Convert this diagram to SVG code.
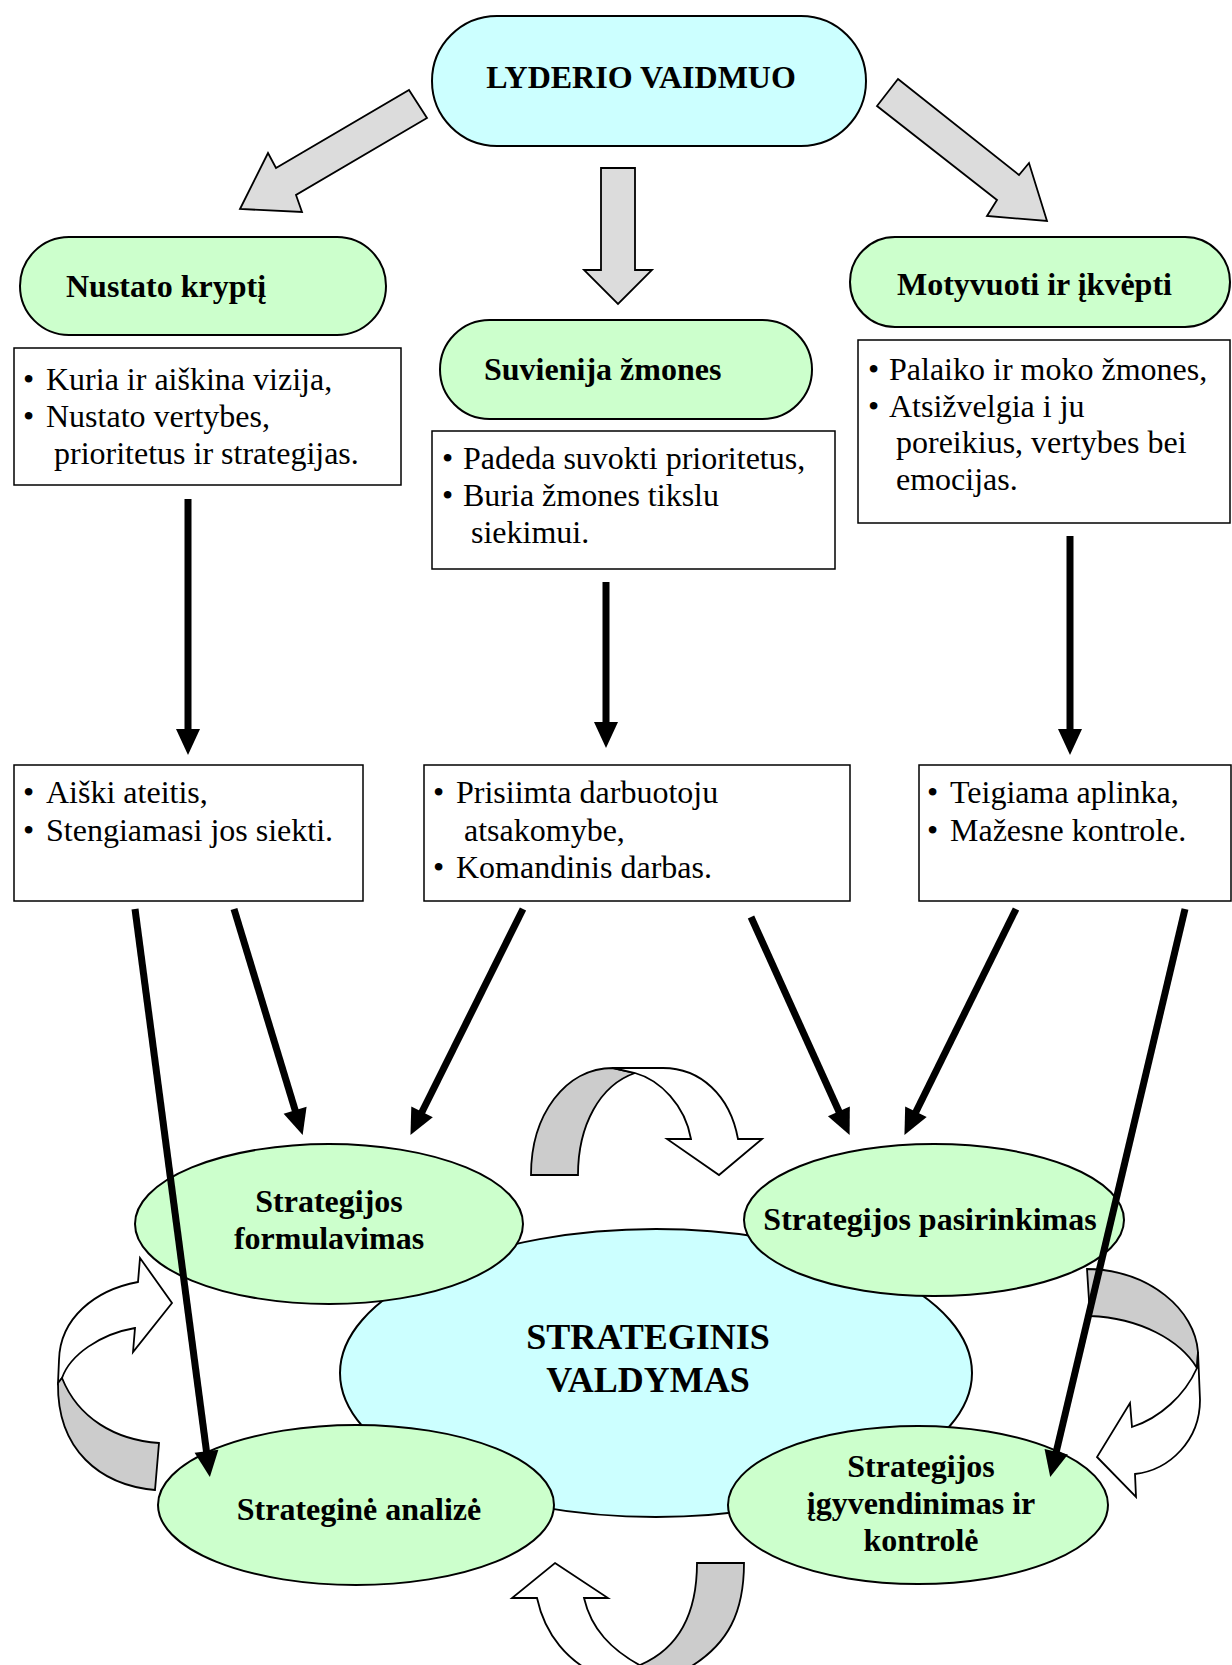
<svg xmlns="http://www.w3.org/2000/svg" width="1232" height="1665" viewBox="0 0 1232 1665">
  <defs>
    <style>
      text { font-family: "Liberation Serif", "Times New Roman", serif; font-size: 32px; fill: #000; }
      .b { font-weight: bold; }
      .mid { text-anchor: middle; }
      .big { font-size: 36px; }
      .pill-blue { fill: #ccffff; stroke: #000; stroke-width: 2; }
      .pill-green { fill: #ccffcc; stroke: #000; stroke-width: 2; }
      .box { fill: #fff; stroke: #000; stroke-width: 1.5; }
      .block { fill: #dcdcdc; stroke: #000; stroke-width: 1.8; stroke-linejoin: miter; }
      .ribbon-front { fill: #fff; stroke: #000; stroke-width: 1.8; }
      .ribbon-back { fill: #cccccc; stroke: #000; stroke-width: 1.8; }
      .link { stroke: #000; stroke-width: 7; fill: none; marker-end: url(#head); }
    </style>
    <marker id="head" markerUnits="userSpaceOnUse" markerWidth="30" markerHeight="28" viewBox="0 -14 30 28" refX="1" refY="0" orient="auto" overflow="visible">
      <path d="M0,-12 L26,0 L0,12 Z" fill="#000"/>
    </marker>
  </defs>

  <rect width="1232" height="1665" fill="#fff"/>

  <!-- top node -->
  <g id="lyderio-vaidmuo">
    <rect class="pill-blue" x="432" y="16" width="434" height="130" rx="65" ry="65"/>
    <text class="b mid" x="641" y="88">LYDERIO VAIDMUO</text>
  </g>

  <!-- three roles -->
  <g id="nustato-krypti">
    <rect class="pill-green" x="20" y="237" width="366" height="98" rx="49" ry="49"/>
    <text class="b" x="66" y="297">Nustato kryptį</text>
  </g>
  <g id="suvienija-zmones">
    <rect class="pill-green" x="440" y="320" width="372" height="99" rx="49.5" ry="49.5"/>
    <text class="b" x="484" y="380">Suvienija žmones</text>
  </g>
  <g id="motyvuoti">
    <rect class="pill-green" x="850" y="237" width="380" height="90" rx="45" ry="45"/>
    <text class="b" x="897" y="295">Motyvuoti ir įkvėpti</text>
  </g>

  <!-- role descriptions -->
  <g id="box-kryptis">
    <rect class="box" x="14" y="348" width="387" height="137"/>
    <text y="390"><tspan x="23">•</tspan><tspan x="46">Kuria ir aiškina vizija,</tspan></text>
    <text y="427"><tspan x="23">•</tspan><tspan x="46">Nustato vertybes,</tspan></text>
    <text x="54" y="464">prioritetus ir strategijas.</text>
  </g>
  <g id="box-zmones">
    <rect class="box" x="432" y="431" width="403" height="138"/>
    <text y="469"><tspan x="442">•</tspan><tspan x="463">Padeda suvokti prioritetus,</tspan></text>
    <text y="506"><tspan x="442">•</tspan><tspan x="463">Buria žmones tikslu</tspan></text>
    <text x="471" y="543">siekimui.</text>
  </g>
  <g id="box-motyvai">
    <rect class="box" x="858" y="340" width="372" height="183"/>
    <text y="380"><tspan x="868">•</tspan><tspan x="889">Palaiko ir moko žmones,</tspan></text>
    <text y="417"><tspan x="868">•</tspan><tspan x="889">Atsižvelgia i ju</tspan></text>
    <text x="896" y="453">poreikius, vertybes bei</text>
    <text x="896" y="490">emocijas.</text>
  </g>

  <!-- outcomes -->
  <g id="box-ateitis">
    <rect class="box" x="14" y="765" width="349" height="136"/>
    <text y="803"><tspan x="23">•</tspan><tspan x="46">Aiški ateitis,</tspan></text>
    <text y="841"><tspan x="23">•</tspan><tspan x="46">Stengiamasi jos siekti.</tspan></text>
  </g>
  <g id="box-atsakomybe">
    <rect class="box" x="424" y="765" width="426" height="136"/>
    <text y="803"><tspan x="433">•</tspan><tspan x="456">Prisiimta darbuotoju</tspan></text>
    <text x="464" y="841">atsakomybe,</text>
    <text y="878"><tspan x="433">•</tspan><tspan x="456">Komandinis darbas.</tspan></text>
  </g>
  <g id="box-aplinka">
    <rect class="box" x="919" y="765" width="312" height="136"/>
    <text y="803"><tspan x="927">•</tspan><tspan x="950">Teigiama aplinka,</tspan></text>
    <text y="841"><tspan x="927">•</tspan><tspan x="950">Mažesne kontrole.</tspan></text>
  </g>

  <!-- block arrows, vertical links and cycle arrows (behind the ellipses) -->
  <g id="connectors-back">
    <polygon class="block" points="409,90 427,118 296,195 302,212 240,209 268,153 276,168"/>
    <polygon class="block" points="601,168 635,168 635,270 652,270 618,304 584,270 601,270"/>
    <polygon class="block" points="898,79 1019,175 1029,163 1047,221 987,216 997,200 877,106"/>

    <line class="link" x1="188" y1="499" x2="188" y2="730"/>
    <line class="link" x1="606" y1="582" x2="606" y2="723"/>
    <line class="link" x1="1070" y1="536" x2="1070" y2="730"/>

    <!-- cycle: top -->
    <path class="ribbon-back" d="M531,1175 C531,1115 565,1068 613,1068 L635,1073 C600,1085 578,1125 578,1175 Z"/>
    <path class="ribbon-front" d="M613,1068 L663,1068 C700,1068 730,1095 738,1139 L762,1139 L719,1175 L667,1139 L691,1139 C685,1105 660,1080 635,1073 Z"/>
    <!-- cycle: right -->
    <path class="ribbon-back" d="M1087,1269 C1150,1270 1195,1310 1198,1352 L1197,1368 C1180,1340 1140,1318 1090,1316 Z"/>
    <path class="ribbon-front" d="M1198,1352 L1200,1400 C1200,1440 1170,1470 1135,1474 L1136,1497 L1097,1457 L1130,1403 L1132,1427 C1160,1418 1185,1395 1197,1368 Z"/>
    <!-- cycle: bottom -->
    <path class="ribbon-front" d="M555,1563 L608,1598 L584,1598 C591,1628 610,1650 645,1668 L645,1680 L600,1680 L600,1676 C568,1662 545,1635 537,1598 L512,1598 Z"/>
    <path class="ribbon-back" d="M697,1563 L744,1563 C744,1610 730,1645 685,1670 L640,1680 L640,1665 C680,1648 697,1612 697,1563 Z"/>
    <!-- cycle: left -->
    <path class="ribbon-front" d="M140,1258 L172,1303 L133,1352 L135,1328 C100,1334 70,1355 62,1378 L58,1383 L59,1360 C60,1318 95,1290 138,1282 Z"/>
    <path class="ribbon-back" d="M58,1383 C57,1450 100,1485 155,1490 L159,1443 C115,1440 78,1418 62,1378 Z"/>
  </g>

  <!-- strategic management cycle -->
  <g id="strateginis-valdymas">
    <ellipse class="pill-blue" cx="656" cy="1373" rx="316" ry="144"/>
    <text class="b mid big" x="648" y="1349">STRATEGINIS</text>
    <text class="b mid big" x="648" y="1392">VALDYMAS</text>
  </g>
  <g id="strategijos-formulavimas">
    <ellipse class="pill-green" cx="329" cy="1224" rx="194" ry="80"/>
    <text class="b mid" x="329" y="1212">Strategijos</text>
    <text class="b mid" x="329" y="1249">formulavimas</text>
  </g>
  <g id="strategijos-pasirinkimas">
    <ellipse class="pill-green" cx="934" cy="1220" rx="190" ry="76"/>
    <text class="b mid" x="930" y="1230">Strategijos pasirinkimas</text>
  </g>
  <g id="strategine-analize">
    <ellipse class="pill-green" cx="356" cy="1505" rx="198" ry="80"/>
    <text class="b mid" x="359" y="1520">Strateginė analizė</text>
  </g>
  <g id="strategijos-igyvendinimas">
    <ellipse class="pill-green" cx="918" cy="1505" rx="190" ry="79"/>
    <text class="b mid" x="921" y="1477">Strategijos</text>
    <text class="b mid" x="921" y="1514">įgyvendinimas ir</text>
    <text class="b mid" x="921" y="1551">kontrolė</text>
  </g>

  <!-- links from outcomes into the cycle -->
  <g id="connectors">
    <line class="link" x1="135" y1="909" x2="206.6" y2="1452.2"/>
    <line class="link" x1="234" y1="909" x2="295.4" y2="1111.1"/>
    <line class="link" x1="523" y1="909" x2="421.6" y2="1112.7"/>
    <line class="link" x1="751" y1="917" x2="839.3" y2="1112.3"/>
    <line class="link" x1="1016" y1="909" x2="915.5" y2="1112.7"/>
    <line class="link" x1="1185" y1="909" x2="1056" y2="1452.7"/>
  </g>
</svg>
